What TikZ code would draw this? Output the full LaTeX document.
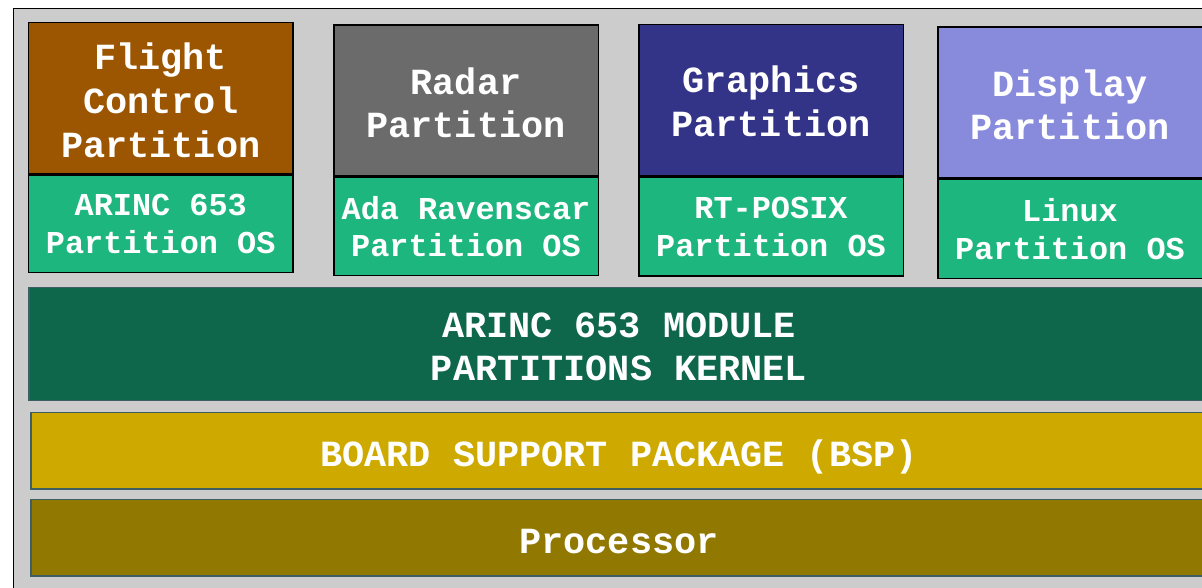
\documentclass[tikz,border=0pt]{standalone}
\usepackage{fontspec}
\newfontfamily\cour{Liberation Mono}
\definecolor{panel}{HTML}{CCCCCC}
\definecolor{flightc}{HTML}{9C5500}
\definecolor{radarc}{HTML}{6B6B6B}
\definecolor{graphc}{HTML}{333488}
\definecolor{dispc}{HTML}{888ADB}
\definecolor{osc}{HTML}{1EB67F}
\definecolor{kernc}{HTML}{0E674B}
\definecolor{bspc}{HTML}{CEAA00}
\definecolor{cpuc}{HTML}{917800}
\definecolor{barline}{HTML}{3D5E62}
\tikzset{
  part/.style={draw=black, line width=1.5bp, inner sep=0pt, text=white,
    font=\cour\bfseries\fontsize{37}{44}\selectfont, align=center,
    minimum width=264.5bp, text depth=0pt, text height=75bp},
  osbox/.style={draw=black, line width=1.5bp, inner sep=0pt, text=white,
    fill=osc, font=\cour\bfseries\fontsize{32}{37.7}\selectfont, align=center,
    minimum width=264.5bp, anchor=north},
  layer/.style={draw=barline, line width=1.6bp, inner sep=0pt, text=white,
    font=\cour\bfseries\fontsize{37}{42.7}\selectfont, align=center}
}
\begin{document}
\begin{tikzpicture}[x=1bp, y=-1bp]
\useasboundingbox (0,0) rectangle (1202,588);
\clip (0,0) rectangle (1202,588);

% outer frame
\draw[fill=panel, draw=black, line width=1.5bp] (13.5,8.5) rectangle (1240,620);

% partitions
\node[part, fill=flightc, minimum height=151.5bp, text height=118bp] (fc) at (160.75,98.25) {Flight\\Control\\Partition};
\node[osbox, minimum height=97bp] (fcos) at (fc.south) {ARINC 653\\Partition OS};

\node[part, fill=radarc, minimum height=151bp] (rd) at (466,100.5) {Radar\\Partition};
\node[osbox, minimum height=98bp] (rdos) at (rd.south) {Ada Ravenscar\\Partition OS};

\node[part, fill=graphc, minimum height=151.5bp, text height=73bp] (gr) at (771,100.25) {Graphics\\Partition};
\node[osbox, minimum height=98.5bp] (gros) at (gr.south) {RT-POSIX\\Partition OS};

\node[part, fill=dispc, minimum height=151bp] (dp) at (1070,102.5) {Display\\Partition};
\node[osbox, minimum height=99bp] (dpos) at (dp.south) {Linux\\Partition OS};

% layers
\node[layer, fill=kernc, minimum width=1180bp, minimum height=113bp,
  text height=72bp, text depth=0pt] (kern) at (619,344)
  {ARINC 653 MODULE\\PARTITIONS KERNEL};
\node[layer, fill=bspc, minimum width=1176bp, minimum height=76.5bp,
  text height=31bp, text depth=0pt] (bsp) at (619,450.75) {BOARD SUPPORT PACKAGE (BSP)};
\node[layer, fill=cpuc, minimum width=1176bp, minimum height=76.5bp,
  text height=31bp, text depth=0pt] (cpu) at (619,537.75) {Processor};
\end{tikzpicture}
\end{document}
